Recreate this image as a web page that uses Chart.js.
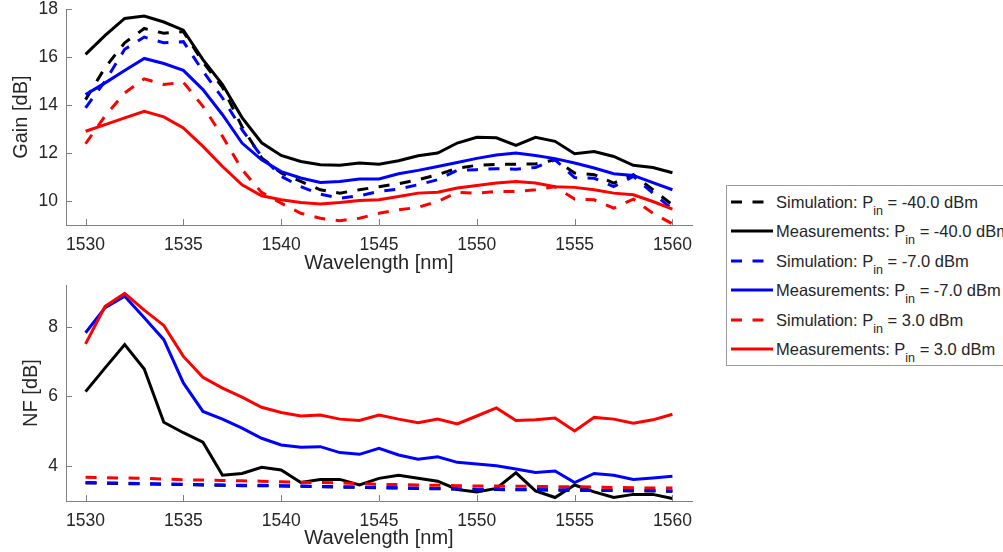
<!DOCTYPE html>
<html>
<head>
<meta charset="utf-8">
<script src="https://cdn.jsdelivr.net/npm/chart.js@4.4.1/dist/chart.umd.min.js"></script>
<style>
  html, body { margin: 0; padding: 0; background: #fff; }
  body { width: 1003px; height: 552px; position: relative; overflow: hidden; font-family: "Liberation Sans", Arial, sans-serif; color: #262626; }
  canvas { position: absolute; left: 0; }
  #gainChart { top: -10px; }
  #nfChart { top: 265px; }
  #legend { position: absolute; left: 726px; top: 185px; width: 300px; height: 179px; border: 1px solid #9a9a9a; background: #fff; }
  #legend .sample { position: absolute; left: 3px; }
  #legend .label { position: absolute; left: 49px; height: 24px; line-height: 24px; font-size: 16.5px; white-space: nowrap; }
  #legend sub { font-size: 12.5px; vertical-align: -7px; line-height: 0; }
</style>
</head>
<body>
<canvas id="gainChart" width="720" height="285"></canvas>
<canvas id="nfChart" width="720" height="287"></canvas>
<div id="legend"></div>
<script>
// wavelength grid [nm]
const wavelengths = [1530, 1531, 1532, 1533, 1534, 1535, 1536, 1537, 1538, 1539, 1540,
    1541, 1542, 1543, 1544, 1545, 1546, 1547, 1548, 1549, 1550,
    1551, 1552, 1553, 1554, 1555, 1556, 1557, 1558, 1559, 1560];

const xTicks = [1530, 1535, 1540, 1545, 1550, 1555, 1560];
const gainTicks = [10, 12, 14, 16, 18];
const nfTicks = [4, 6, 8];

// Gain [dB]
const gainSimM40 = [14.23, 15.57, 16.6, 17.2, 17.0, 17.07, 15.8, 14.74, 13.1, 11.8, 11.17,
    10.82, 10.47, 10.33, 10.47, 10.6, 10.72, 10.89, 11.1, 11.37, 11.49,
    11.53, 11.53, 11.55, 11.72, 11.17, 11.1, 10.75, 11.1, 10.47, 9.84];
const gainMeasM40 = [16.12, 16.91, 17.62, 17.72, 17.47, 17.13, 15.9, 14.86, 13.48, 12.43, 11.9,
    11.65, 11.51, 11.49, 11.59, 11.54, 11.68, 11.89, 12.0, 12.42, 12.66,
    12.64, 12.32, 12.66, 12.49, 11.97, 12.07, 11.86, 11.49, 11.4, 11.18];
const gainSimM7 = [13.89, 15.0, 16.33, 16.84, 16.6, 16.65, 15.42, 14.3, 12.98, 11.86, 11.03,
    10.6, 10.29, 10.12, 10.22, 10.4, 10.5, 10.68, 10.89, 11.28, 11.31,
    11.35, 11.33, 11.4, 11.72, 10.98, 10.95, 10.6, 11.03, 10.33, 9.66];
const gainMeasM7 = [14.44, 14.93, 15.45, 15.95, 15.74, 15.45, 14.65, 13.6, 12.42, 11.72, 11.23,
    10.96, 10.77, 10.82, 10.92, 10.92, 11.14, 11.28, 11.44, 11.61, 11.78,
    11.92, 12.0, 11.9, 11.77, 11.59, 11.38, 11.14, 11.07, 10.77, 10.47];
const gainSim3 = [12.39, 13.55, 14.51, 15.1, 14.86, 14.96, 13.95, 12.7, 11.31, 10.36, 9.91,
    9.49, 9.28, 9.18, 9.28, 9.49, 9.63, 9.74, 9.98, 10.36, 10.33,
    10.4, 10.4, 10.47, 10.6, 10.08, 10.05, 9.7, 10.08, 9.49, 9.05];
const gainMeas3 = [12.91, 13.19, 13.47, 13.74, 13.51, 13.05, 12.28, 11.44, 10.68, 10.22, 10.05,
    9.94, 9.88, 9.94, 10.02, 10.05, 10.19, 10.33, 10.37, 10.54, 10.65,
    10.75, 10.82, 10.75, 10.6, 10.57, 10.47, 10.33, 10.26, 9.98, 9.66];

// NF [dB]
const nfSimM40 = [3.52, 3.51, 3.5, 3.49, 3.48, 3.47, 3.46, 3.45, 3.44, 3.44, 3.43,
    3.42, 3.41, 3.4, 3.39, 3.38, 3.37, 3.36, 3.35, 3.34, 3.33,
    3.33, 3.32, 3.32, 3.31, 3.31, 3.3, 3.3, 3.29, 3.29, 3.28];
const nfMeasM40 = [6.14, 6.82, 7.49, 6.79, 5.26, 4.96, 4.69, 3.74, 3.79, 3.97, 3.89,
    3.53, 3.62, 3.62, 3.46, 3.65, 3.74, 3.65, 3.57, 3.33, 3.26,
    3.36, 3.81, 3.29, 3.1, 3.46, 3.26, 3.1, 3.19, 3.19, 3.07];
const nfSimM7 = [3.53, 3.52, 3.51, 3.5, 3.49, 3.48, 3.47, 3.46, 3.45, 3.45, 3.44,
    3.43, 3.42, 3.41, 3.4, 3.39, 3.38, 3.37, 3.36, 3.35, 3.34,
    3.34, 3.33, 3.33, 3.32, 3.32, 3.31, 3.31, 3.3, 3.3, 3.29];
const nfMeasM7 = [7.83, 8.55, 8.88, 8.26, 7.63, 6.39, 5.57, 5.35, 5.09, 4.8, 4.61,
    4.54, 4.56, 4.39, 4.34, 4.51, 4.32, 4.2, 4.27, 4.11, 4.06,
    4.01, 3.92, 3.82, 3.86, 3.53, 3.79, 3.74, 3.62, 3.66, 3.71];
const nfSim3 = [3.68, 3.67, 3.66, 3.65, 3.63, 3.61, 3.6, 3.59, 3.58, 3.57, 3.55,
    3.54, 3.53, 3.52, 3.5, 3.48, 3.47, 3.46, 3.45, 3.44, 3.43,
    3.43, 3.42, 3.42, 3.41, 3.41, 3.4, 3.39, 3.38, 3.37, 3.37];
const nfMeas3 = [7.51, 8.59, 8.96, 8.48, 8.04, 7.15, 6.55, 6.24, 5.98, 5.69, 5.54,
    5.44, 5.47, 5.35, 5.31, 5.47, 5.35, 5.25, 5.35, 5.21, 5.44,
    5.67, 5.31, 5.33, 5.38, 5.01, 5.4, 5.35, 5.23, 5.33, 5.49];

// legend order: sim/meas for each input power
const seriesKinds = ['Simulation', 'Measurements', 'Simulation', 'Measurements', 'Simulation', 'Measurements'];
const seriesPin = ['-40.0', '-40.0', '-7.0', '-7.0', '3.0', '3.0'];
const seriesColors = ['#000000', '#000000', '#0000ff', '#0000ff', '#ff0000', '#ff0000'];
const seriesDashed = [true, false, true, false, true, false];

const axisColor = '#7f7f7f';
const textColor = '#262626';
const DASH = [11, 10.5];

Chart.defaults.font.family = '"Liberation Sans", Arial, sans-serif';
Chart.defaults.color = textColor;

// MATLAB-style ticks drawn inward from the axis lines
const innerTicks = {
    id: 'innerTicks',
    afterDraw(chart) {
        const { ctx, chartArea } = chart;
        const x = chart.scales.x, y = chart.scales.y;
        ctx.save();
        ctx.strokeStyle = axisColor;
        ctx.lineWidth = 1;
        ctx.beginPath();
        x.ticks.forEach(t => {
            const px = Math.round(x.getPixelForValue(t.value)) + 0.5;
            ctx.moveTo(px, chartArea.bottom);
            ctx.lineTo(px, chartArea.bottom - 6);
        });
        y.ticks.forEach(t => {
            const py = Math.round(y.getPixelForValue(t.value)) + 0.5;
            ctx.moveTo(chartArea.left, py);
            ctx.lineTo(chartArea.left + 6, py);
        });
        ctx.stroke();
        ctx.restore();
    }
};

function makeDatasets(seriesList) {
    return seriesList.map((vals, i) => ({
        label: seriesKinds[i] + ': Pin = ' + seriesPin[i] + ' dBm',
        data: wavelengths.map((w, k) => ({ x: w, y: vals[k] })),
        borderColor: seriesColors[i],
        backgroundColor: seriesColors[i],
        borderWidth: 3,
        borderDash: seriesDashed[i] ? DASH : [],
        pointRadius: 0,
        tension: 0,
        fill: false,
        order: seriesList.length - i
    }));
}

function renderPanel(canvasId, seriesList, opts) {
    const canvas = document.getElementById(canvasId);
    new Chart(canvas.getContext('2d'), {
        type: 'line',
        data: { datasets: makeDatasets(seriesList) },
        plugins: [innerTicks],
        options: {
            responsive: false,
            animation: false,
            devicePixelRatio: 1,
            layout: { padding: { top: opts.padTop, right: 28, left: 0, bottom: 0 } },
            plugins: { legend: { display: false }, tooltip: { enabled: false } },
            scales: {
                x: {
                    type: 'linear',
                    min: 1529,
                    max: 1561,
                    afterBuildTicks: s => { s.ticks = xTicks.map(v => ({ value: v })); },
                    afterFit: s => { s.height = opts.xHeight; },
                    grid: { display: true, drawOnChartArea: false, drawTicks: false },
                    border: { display: true, color: axisColor, width: 1 },
                    ticks: { font: { size: 17.5 }, padding: 10, color: textColor, maxRotation: 0,
                             callback: v => String(v) },
                    title: {
                        display: true, text: 'Wavelength [nm]', color: textColor,
                        font: { size: 20 }, padding: { top: 0, bottom: opts.xTitlePad }
                    }
                },
                y: {
                    min: opts.yMin,
                    max: opts.yMax,
                    afterBuildTicks: s => { s.ticks = opts.yTicks.map(v => ({ value: v })); },
                    afterFit: s => { s.width = 66; },
                    grid: { display: true, drawOnChartArea: false, drawTicks: false },
                    border: { display: true, color: axisColor, width: 1 },
                    ticks: { font: { size: 17.5 }, padding: 8, color: textColor,
                             callback: v => String(v) },
                    title: {
                        display: true, text: opts.yTitle, color: textColor,
                        font: { size: 20 }, padding: { top: opts.yTitlePad, bottom: 0 }
                    }
                }
            }
        }
    });
}

renderPanel('gainChart',
    [gainSimM40, gainMeasM40, gainSimM7, gainMeasM7, gainSim3, gainMeas3],
    { yMin: 9, yMax: 18, yTicks: gainTicks, yTitle: 'Gain [dB]', yTitlePad: 9.5,
      padTop: 19.3, xHeight: 50, xTitlePad: 0 });

renderPanel('nfChart',
    [nfSimM40, nfMeasM40, nfSimM7, nfMeasM7, nfSim3, nfMeas3],
    { yMin: 3, yMax: 9.2, yTicks: nfTicks, yTitle: 'NF [dB]', yTitlePad: 19.3,
      padTop: 20, xHeight: 51, xTitlePad: 1.3 });

// legend with subscripted P_in, as in the original figure
const legend = document.getElementById('legend');
const rowCenters = [15.7, 45, 74.7, 104, 133.7, 163];
seriesKinds.forEach((kind, i) => {
    const c = rowCenters[i];
    const svg = document.createElementNS('http://www.w3.org/2000/svg', 'svg');
    svg.setAttribute('class', 'sample');
    svg.setAttribute('width', '44');
    svg.setAttribute('height', '6');
    svg.style.top = (c - 3) + 'px';
    const line = document.createElementNS('http://www.w3.org/2000/svg', 'line');
    line.setAttribute('x1', '1');
    line.setAttribute('x2', seriesDashed[i] ? '34' : '43');
    line.setAttribute('y1', '3');
    line.setAttribute('y2', '3');
    line.setAttribute('stroke', seriesColors[i]);
    line.setAttribute('stroke-width', '3.2');
    if (seriesDashed[i]) line.setAttribute('stroke-dasharray', DASH.join(' '));
    svg.appendChild(line);
    legend.appendChild(svg);

    const label = document.createElement('div');
    label.className = 'label';
    label.style.top = (c - 12) + 'px';
    label.innerHTML = kind + ': P<sub>in</sub> = ' + seriesPin[i] + ' dBm';
    legend.appendChild(label);
});
</script>
</body>
</html>
